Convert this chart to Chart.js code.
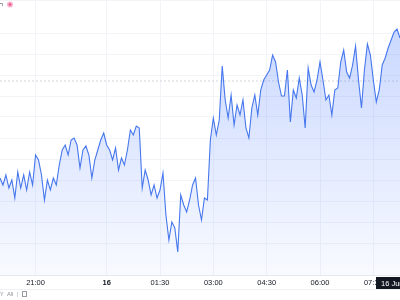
<!DOCTYPE html>
<html>
<head>
<meta charset="utf-8">
<style>
  html, body { margin: 0; padding: 0; background: #fff; }
  #wrap { width: 400px; height: 300px; position: relative; }
</style>
<script src="https://cdn.jsdelivr.net/npm/chart.js@4.4.1/dist/chart.umd.min.js"></script>
</head>
<body>
<div id="wrap"><canvas id="chart" width="400" height="300"></canvas></div>
<script>
// 5-minute bars, index 0 = first visible bar (20:00)
const prices = [
  86, 79, 89, 76, 84, 66, 92, 76, 89, 74, 92, 79, 109, 104, 89, 64, 84, 74, 86, 79,
  99, 114, 119, 109, 124, 126, 119, 96, 114, 118, 109, 86, 104, 114, 124, 131, 119, 114, 104, 116,
  94, 106, 99, 114, 134, 129, 138, 136, 76, 94, 84, 69, 79, 66, 74, 91, 49, 24, 42, 36,
  12, 69, 59, 52, 64, 79, 86, 59, 44, 66, 64, 124, 146, 129, 144, 198, 164, 146, 169, 139,
  159, 149, 164, 136, 126, 156, 169, 149, 174, 184, 189, 194, 209, 202, 182, 168, 168, 194, 142, 174,
  166, 186, 169, 136, 196, 179, 172, 184, 202, 184, 164, 169, 149, 174, 176, 202, 214, 192, 186, 199,
  218, 184, 156, 194, 220, 209, 184, 162, 174, 199, 206, 216, 224, 232, 235, 226
];
const prevClose = 183;
const tickBars = [12, 36, 54, 72, 90, 108, 126];
const tickLabels = ["21:00", "16", "01:30", "03:00", "04:30", "06:00", "07:30"];
const rangeButtons = ["1Y", "All"];
const cursorDate = "16 Jun";

const points = prices.map((v, i) => ({ x: i, y: v }));

const overlay = {
  id: "overlay",
  afterDraw(chart) {
    const ctx = chart.ctx;
    const area = chart.chartArea;
    ctx.save();
    // date box at bottom right
    ctx.fillStyle = "#131722";
    ctx.fillRect(376, area.bottom + 2, 30, 13);
    ctx.fillStyle = "#ffffff";
    ctx.font = "7.5px 'Liberation Sans', sans-serif";
    ctx.textBaseline = "middle";
    ctx.fillText(cursorDate, 381, area.bottom + 8.5);
    // toolbar separator
    ctx.strokeStyle = "#eef0f3";
    ctx.lineWidth = 1;
    ctx.beginPath();
    ctx.moveTo(0, 289.5);
    ctx.lineTo(400, 289.5);
    ctx.stroke();
    ctx.fillStyle = "#8a8d96";
    ctx.font = "5.5px 'Liberation Sans', sans-serif";
    ctx.fillText(rangeButtons[0], -3, 294.5);
    ctx.fillText(rangeButtons[1], 7, 294.5);
    ctx.fillStyle = "#d6d8de";
    ctx.fillRect(17, 292, 1, 5);
    ctx.strokeStyle = "#9a9ca4";
    ctx.strokeRect(22.5, 291.5, 4, 5);
    // top-left marks
    ctx.strokeStyle = "#9a9ca4";
    ctx.beginPath();
    ctx.moveTo(0, 3.5); ctx.lineTo(2.5, 3.5); ctx.lineTo(2.5, 6);
    ctx.stroke();
    ctx.fillStyle = "#f8b4cf";
    ctx.beginPath(); ctx.arc(10, 4.5, 3, 0, Math.PI * 2); ctx.fill();
    ctx.fillStyle = "#e8537f";
    ctx.beginPath(); ctx.arc(10, 4.5, 1.3, 0, Math.PI * 2); ctx.fill();
    ctx.restore();
  }
};

new Chart(document.getElementById("chart"), {
  type: "line",
  data: {
    datasets: [
      {
        data: points,
        borderColor: "#4677ec",
        borderWidth: 1.1,
        pointRadius: 0,
        tension: 0,
        fill: "start",
        backgroundColor(c) {
          const a = c.chart.chartArea;
          if (!a) return "rgba(41,98,255,0.1)";
          const g = c.chart.ctx.createLinearGradient(0, a.top, 0, a.bottom);
          g.addColorStop(0, "rgba(41,98,255,0.27)");
          g.addColorStop(1, "rgba(41,98,255,0.03)");
          return g;
        }
      },
      {
        data: [{ x: 0, y: prevClose }, { x: 135, y: prevClose }],
        borderColor: "#d3d5db",
        borderWidth: 1,
        borderDash: [2, 2],
        pointRadius: 0,
        fill: false
      }
    ]
  },
  options: {
    responsive: false,
    animation: false,
    layout: { padding: 0 },
    plugins: { legend: { display: false }, tooltip: { enabled: false } },
    scales: {
      x: {
        type: "linear",
        min: 0,
        max: 135,
        afterBuildTicks(s) { s.ticks = tickBars.map(v => ({ value: v })); },
        afterFit(s) { s.height = 25; },
        grid: { color: "#f2f4f8", drawTicks: false },
        border: { color: "#e6e8ec" },
        ticks: {
          autoSkip: false,
          maxRotation: 0,
          padding: 3,
          color: "#131722",
          font(c) {
            return { family: "'Liberation Sans', sans-serif", size: 7.5,
                     weight: c.tick && c.tick.value === 36 ? "bold" : "normal" };
          },
          callback(v) { return tickLabels[tickBars.indexOf(v)]; }
        }
      },
      y: {
        position: "right",
        min: -11,
        max: 264,
        afterFit(s) { s.width = 0; },
        grid: { color: "#f2f4f8", drawTicks: false },
        border: { display: false },
        ticks: { display: false, stepSize: 21 }
      }
    }
  },
  plugins: [overlay]
});
</script>
</body>
</html>
